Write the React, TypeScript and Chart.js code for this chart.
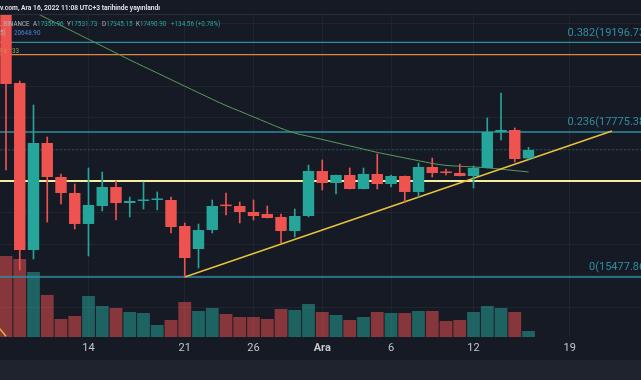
import React, { useEffect, useRef } from "react";
import { Chart, registerables } from "chart.js";

Chart.register(...registerables);

// ---- data (BTC/USDT daily, Binance) ----
const dates = [
  "8 Kas", "9 Kas", "10 Kas", "11 Kas", "12 Kas", "13 Kas", "14 Kas", "15 Kas", "16 Kas", "17 Kas",
  "18 Kas", "19 Kas", "20 Kas", "21 Kas", "22 Kas", "23 Kas", "24 Kas", "25 Kas", "26 Kas", "27 Kas",
  "28 Kas", "29 Kas", "30 Kas", "1 Ara", "2 Ara", "3 Ara", "4 Ara", "5 Ara", "6 Ara", "7 Ara",
  "8 Ara", "9 Ara", "10 Ara", "11 Ara", "12 Ara", "13 Ara", "14 Ara", "15 Ara", "16 Ara",
];
const opens = [
  20600, 18551, 15905, 17601, 17062, 16809, 16318, 16603, 16904, 16650,
  16682, 16698, 16698, 16286, 15921, 16222, 16605, 16603, 16508, 16476,
  16429, 16207, 16444, 17157, 16967, 17094, 16872, 17110, 16951, 17078,
  16825, 17221, 17128, 17126, 17078, 17205, 17775, 17807, 17356.96,
];
const highs = [
  20700, 18583, 18203, 17696, 17110, 16951, 17205, 17141, 17000, 16745,
  16983, 16825, 16745, 16333, 16317, 16698, 16809, 16666, 16698, 16603,
  16476, 16555, 17252, 17332, 17094, 17205, 17205, 17427, 17094, 17078,
  17284, 17363, 17189, 17268, 17236, 17997, 18393, 17839, 17531.73,
];
const lows = [
  17173, 15588, 15763, 16349, 16635, 16238, 15811, 16524, 16381, 16429,
  16555, 16540, 16175, 15477.86, 15620, 16175, 16460, 16333, 16381, 16413,
  16017, 16112, 16429, 16856, 16793, 16872, 16872, 16872, 16904, 16666,
  16745, 17062, 17094, 17078, 16888, 17205, 17648, 17300, 17345.15,
];
const closes = [
  18536, 15905, 17601, 17062, 16809, 16318, 16619, 16904, 16650, 16682,
  16698, 16702, 16270, 15779, 16222, 16603, 16601, 16508, 16444, 16413,
  16207, 16444, 17157, 16967, 17094, 16872, 17110, 16951, 17078, 16825,
  17221, 17126, 17126, 17078, 17205, 17775, 17807, 17347, 17490.9,
];
// volume (thousand BTC, estimated)
const volumes = [
  810, 780, 650, 420, 180, 210, 410, 310, 290, 250,
  240, 120, 170, 350, 260, 290, 230, 200, 200, 180,
  280, 270, 330, 250, 220, 170, 200, 250, 240, 240,
  260, 260, 160, 170, 250, 310, 290, 250, 60,
];
// moving average line
const maValues = [
  19898, 19789, 19681, 19572, 19463, 19354, 19245, 19136, 19027, 18918,
  18814, 18710, 18606, 18501, 18398, 18294, 18195, 18105, 18015, 17924,
  17834, 17758, 17707, 17657, 17606, 17555, 17504, 17452, 17408, 17364,
  17321, 17277, 17246, 17233, 17221, 17208, 17186, 17164, 17142,
];
const tickIndices = [6, 13, 18, 23, 28, 34, 41];
const tickLabels = ["14", "21", "26", "Ara", "6", "12", "19"];
const fibLevels = [0.382, 0.236, 0];
const fibPrices = [19196.73, 17775.38, 15477.86];
const levelOrange = 19000;
const levelYellow = 17000;
const lastPrice = 17490.9;
const trendX = [13, 44.07];
const trendY = [15477.86, 17791];
const smallLineX = [-0.5, 0.0];
const smallLineY = [14670, 14540];
const gridPrices = [15000, 15500, 16000, 16500, 17000, 17500, 18000, 18500, 19000, 19500];

// ---- view range ----
const X_MIN = -0.436;
const X_MAX = 46.18;
const Y_MIN = 14527;
const Y_MAX = 19645;
const VOL_MAX = 3230;

const UP = "#26a69a";
const DOWN = "#ef5350";
const BG = "#161a25";
const FIB = "#2e8ea2";

const fibLabelPlugin = {
  id: "fibLabels",
  afterDatasetsDraw(chart: any) {
    const { ctx, chartArea, scales } = chart;
    ctx.save();
    ctx.font = "11px Roboto";
    ctx.fillStyle = FIB;
    ctx.textAlign = "right";
    ctx.textBaseline = "bottom";
    fibLevels.forEach((lv, k) => {
      const y = scales.y.getPixelForValue(fibPrices[k]);
      ctx.fillText(`${lv}(${fibPrices[k].toFixed(2)})`, chartArea.right + 8, y - 4);
    });
    ctx.restore();
  },
};

function hline(value: number, color: string, width: number, dash: number[] = [], order = 5) {
  return {
    type: "line" as const,
    data: [
      { x: X_MIN, y: value },
      { x: X_MAX, y: value },
    ],
    borderColor: color,
    borderWidth: width,
    borderDash: dash,
    pointRadius: 0,
    yAxisID: "y",
    order,
  };
}

export default function App() {
  const canvasRef = useRef<HTMLCanvasElement | null>(null);

  useEffect(() => {
    document.body.style.margin = "0";
    document.body.style.background = BG;
    const isUp = closes.map((c, i) => c >= opens[i]);
    const chart = new Chart(canvasRef.current as HTMLCanvasElement, {
      type: "bar",
      data: {
        datasets: [
          {
            type: "bar",
            data: volumes.map((v, i) => ({ x: i, y: v })),
            yAxisID: "yv",
            backgroundColor: isUp.map((u) => (u ? "rgba(38,166,154,0.52)" : "rgba(239,83,80,0.52)")),
            barPercentage: 0.93,
            categoryPercentage: 1,
            grouped: false,
            order: 20,
            clip: 0,
          } as any,
          hline(lastPrice, "rgba(38,166,154,0.35)", 1, [2, 2], 9),
          hline(fibPrices[0], FIB, 1.3, [], 8),
          hline(fibPrices[1], FIB, 1.3, [], 8),
          hline(fibPrices[2], FIB, 1.3, [], 8),
          hline(levelOrange, "#e0843f", 1.3, [], 8),
          hline(levelYellow, "#f2eea0", 2, [], 8),
          {
            type: "line",
            data: maValues.map((v, i) => ({ x: i, y: v })),
            borderColor: "#5a9c5c",
            borderWidth: 1,
            pointRadius: 0,
            tension: 0.3,
            yAxisID: "y",
            order: 7,
          } as any,
          {
            type: "line",
            data: trendX.map((x, k) => ({ x, y: trendY[k] })),
            borderColor: "#e9c23c",
            borderWidth: 1.4,
            pointRadius: 0,
            yAxisID: "y",
            order: 6,
          } as any,
          {
            type: "line",
            data: smallLineX.map((x, k) => ({ x, y: smallLineY[k] })),
            borderColor: "#e9c23c",
            borderWidth: 1.4,
            pointRadius: 0,
            yAxisID: "y",
            order: 6,
          } as any,
          {
            type: "bar",
            data: lows.map((l, i) => ({ x: i, y: [l, highs[i]] })),
            yAxisID: "y",
            backgroundColor: isUp.map((u) => (u ? UP : DOWN)),
            barThickness: 1,
            grouped: false,
            order: 2,
            clip: 0,
          } as any,
          {
            type: "bar",
            data: opens.map((o, i) => ({ x: i, y: [o, closes[i]] })),
            yAxisID: "y",
            backgroundColor: isUp.map((u) => (u ? UP : DOWN)),
            barPercentage: 0.83,
            categoryPercentage: 1,
            minBarLength: 1.5,
            grouped: false,
            order: 1,
            clip: 0,
          } as any,
        ],
      },
      options: {
        responsive: false,
        animation: false,
        events: [],
        layout: { padding: { top: 14, left: 0, right: 0, bottom: 0 } },
        plugins: { legend: { display: false }, tooltip: { enabled: false } },
        scales: {
          x: {
            type: "linear",
            min: X_MIN,
            max: X_MAX,
            offset: false,
            position: "bottom",
            border: { display: false },
            grid: { color: "rgba(42,46,57,0.55)", drawTicks: false, offset: false },
            afterBuildTicks: (scale: any) => {
              scale.ticks = tickIndices.map((v) => ({ value: v }));
            },
            afterFit: (scale: any) => {
              scale.height = 23;
              scale.paddingLeft = 0;
              scale.paddingRight = 0;
            },
            ticks: {
              autoSkip: false,
              maxRotation: 0,
              padding: 5,
              color: "#c3c6ce",
              font: (ctx: any) => ({
                family: "Roboto",
                size: 11,
                weight: ctx.tick && ctx.tick.value === 23 ? "bold" : "normal",
              }),
              callback: (value: any) => {
                const k = tickIndices.indexOf(Number(value));
                return k >= 0 ? tickLabels[k] : "";
              },
            },
          },
          y: {
            type: "linear",
            min: Y_MIN,
            max: Y_MAX,
            position: "left",
            border: { display: false },
            grid: { color: "rgba(42,46,57,0.55)", drawTicks: false },
            afterBuildTicks: (scale: any) => {
              scale.ticks = gridPrices.map((v) => ({ value: v }));
            },
            afterFit: (scale: any) => {
              scale.width = 0;
            },
            ticks: { display: false },
          },
          yv: {
            type: "linear",
            min: 0,
            max: VOL_MAX,
            display: false,
          },
        },
      } as any,
      plugins: [fibLabelPlugin],
    });
    return () => chart.destroy();
  }, []);

  const small: React.CSSProperties = {
    position: "absolute",
    fontFamily: "Roboto, sans-serif",
    fontSize: "6.3px",
    lineHeight: "8px",
    whiteSpace: "nowrap",
  };
  const teal = "#2fa79c";
  const grey = "#b2b5be";

  return (
    <div
      style={{
        position: "absolute",
        left: 0,
        top: 0,
        width: 641,
        height: 380,
        background: BG,
        overflow: "hidden",
      }}
    >
      <canvas ref={canvasRef} width={641} height={360} style={{ position: "absolute", left: 0, top: 0 }} />
      <div style={{ position: "absolute", left: 0, top: 14, width: 641, height: 1, background: "#2a2e39" }} />
      <div style={{ position: "absolute", left: 0, top: 360, width: 641, height: 20, background: "#1f232e" }} />
      <div style={{ ...small, left: 0, top: 4, color: "#e6e8ee", fontWeight: 600, fontSize: "6.7px" }}>
        v.com, Ara 16, 2022 11:08 UTC+3 tarihinde yayınlandı
      </div>
      <div style={{ ...small, left: 0, top: 20, color: grey }}>. BINANCE</div>
      <div style={{ ...small, left: 33, top: 20, color: grey }}>
        A<span style={{ color: teal }}>17356.96</span>
      </div>
      <div style={{ ...small, left: 67, top: 20, color: grey }}>
        Y<span style={{ color: teal }}>17531.73</span>
      </div>
      <div style={{ ...small, left: 102, top: 20, color: grey }}>
        D<span style={{ color: teal }}>17345.15</span>
      </div>
      <div style={{ ...small, left: 136, top: 20, color: grey }}>
        K<span style={{ color: teal }}>17490.90</span>
      </div>
      <div style={{ ...small, left: 171, top: 20, color: teal }}>+134.56 (+0.78%)</div>
      <div style={{ ...small, left: 0, top: 29, color: grey }}>5)</div>
      <div style={{ ...small, left: 14, top: 29, color: "#4a82e0" }}>20648.90</div>
      <div style={{ ...small, left: 0, top: 47, color: "#c98a4a" }}>Fa</div>
      <div style={{ ...small, left: 12, top: 47, color: "#8aa860" }}>33</div>
    </div>
  );
}
